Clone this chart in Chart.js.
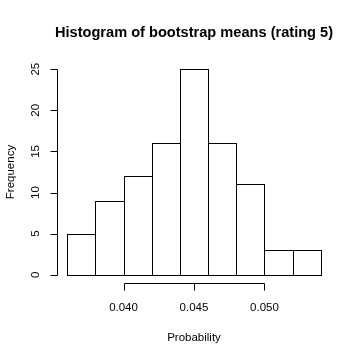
<!DOCTYPE html>
<html>
<head>
  <meta charset="utf-8">
  <script src="https://cdn.jsdelivr.net/npm/chart.js"></script>
  <style>
    body { margin: 0; background: #fff; }
    #wrap { width: 360px; height: 360px; }
  </style>
</head>
<body>
  <div id="wrap"><canvas id="histChart" width="360" height="360"></canvas></div>

  <script>
    // histogram data
    const binEdges = [0.036, 0.038, 0.040, 0.042, 0.044, 0.046, 0.048, 0.050, 0.052, 0.054];
    const counts = [5, 9, 12, 16, 25, 16, 11, 3, 3];
    const xTicks = [0.040, 0.045, 0.050];
    const xTickLabels = ['0.040', '0.045', '0.050'];
    const yTicks = [0, 5, 10, 15, 20, 25];
    const yTickLabels = ['0', '5', '10', '15', '20', '25'];

    const titleText = 'Histogram of bootstrap means (rating 5)';
    const xTitle = 'Probability';
    const yTitle = 'Frequency';

    const points = counts.map((c, i) => ({ x: (binEdges[i] + binEdges[i + 1]) / 2, y: c }));

    // R extends the range by 4% on each side
    const xSpan = binEdges[binEdges.length - 1] - binEdges[0];
    const xMin = binEdges[0] - xSpan * 0.04;
    const xMax = binEdges[binEdges.length - 1] + xSpan * 0.04;
    const yMin = -1, yMax = 26;

    const FONT = '"Liberation Sans", Arial, Helvetica, sans-serif';

    // draw R-style axes, bar outlines and labels
    const rStyle = {
      id: 'rStyle',
      afterDatasetsDraw(chart) {
        const ctx = chart.ctx;
        const xs = chart.scales.x, ys = chart.scales.y;
        const area = chart.chartArea;
        ctx.save();
        ctx.strokeStyle = '#000';
        ctx.lineWidth = 1;

        // bar outlines
        const meta = chart.getDatasetMeta(0);
        meta.data.forEach(bar => {
          const p = bar.getProps(['x', 'y', 'base', 'width'], true);
          const l = Math.round(p.x - p.width / 2) + 0.5;
          const r = Math.round(p.x + p.width / 2) + 0.5;
          const t = Math.round(p.y) + 0.5;
          const b = Math.round(p.base) + 0.5;
          ctx.strokeRect(l, t, r - l, b - t);
        });

        // x axis
        const axY = Math.round(area.bottom) + 0.5;
        const x0 = Math.round(xs.getPixelForValue(xTicks[0])) + 0.5;
        const x1 = Math.round(xs.getPixelForValue(xTicks[xTicks.length - 1])) + 0.5;
        ctx.beginPath();
        ctx.moveTo(x0, axY); ctx.lineTo(x1, axY);
        xTicks.forEach(v => {
          const px = Math.round(xs.getPixelForValue(v)) + 0.5;
          ctx.moveTo(px, axY); ctx.lineTo(px, axY + 7);
        });
        // y axis
        const axX = Math.round(area.left) + 0.5;
        const y0 = Math.round(ys.getPixelForValue(yTicks[0])) + 0.5;
        const y1 = Math.round(ys.getPixelForValue(yTicks[yTicks.length - 1])) + 0.5;
        ctx.moveTo(axX, y0); ctx.lineTo(axX, y1);
        yTicks.forEach(v => {
          const py = Math.round(ys.getPixelForValue(v)) + 0.5;
          ctx.moveTo(axX, py); ctx.lineTo(axX - 7, py);
        });
        ctx.stroke();

        ctx.fillStyle = '#000';
        ctx.font = '11.5px ' + FONT;
        ctx.textAlign = 'center';
        ctx.textBaseline = 'middle';
        xTicks.forEach((v, i) => {
          ctx.fillText(xTickLabels[i], xs.getPixelForValue(v), area.bottom + 25);
        });
        yTicks.forEach((v, i) => {
          ctx.save();
          ctx.translate(area.left - 21, ys.getPixelForValue(v));
          ctx.rotate(-Math.PI / 2);
          ctx.fillText(yTickLabels[i], 0, 0);
          ctx.restore();
        });

        // axis titles
        const midX = (area.left + area.right) / 2;
        const midY = (area.top + area.bottom) / 2;
        ctx.fillText(xTitle, midX, area.bottom + 55);
        ctx.save();
        ctx.translate(11, midY);
        ctx.rotate(-Math.PI / 2);
        ctx.fillText(yTitle, 0, 0);
        ctx.restore();

        // main title
        ctx.font = 'bold 14.6px ' + FONT;
        ctx.fillText(titleText, midX, 33);
        ctx.restore();
      }
    };

    new Chart(document.getElementById('histChart'), {
      type: 'bar',
      data: {
        datasets: [{
          data: points,
          backgroundColor: '#ffffff',
          borderWidth: 0,
          barPercentage: 1,
          categoryPercentage: 1
        }]
      },
      options: {
        responsive: false,
        animation: false,
        layout: { padding: { left: 57, right: 29, top: 61, bottom: 77 } },
        plugins: { legend: { display: false }, tooltip: { enabled: false } },
        scales: {
          x: { type: 'linear', min: xMin, max: xMax, offset: false, display: false },
          y: { type: 'linear', min: yMin, max: yMax, display: false }
        }
      },
      plugins: [rStyle]
    });
  </script>
</body>
</html>
